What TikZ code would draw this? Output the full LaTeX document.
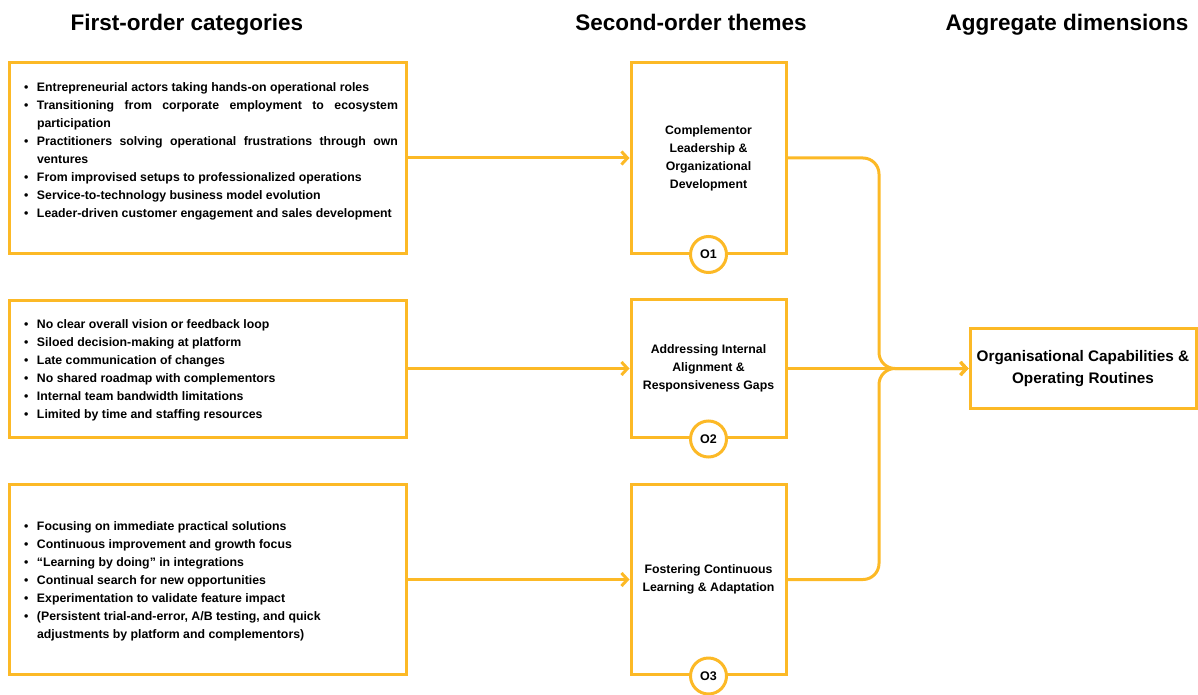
\documentclass[tikz,border=0pt]{standalone}
\usepackage{fontspec}
\setmainfont{Liberation Sans}
\usetikzlibrary{arrows.meta}
\definecolor{amber}{RGB}{252,185,38}
\newcommand{\bitem}{\par\leftskip=7pt\hangindent=13pt\hangafter=1\noindent\hbox to 13pt{\textbullet\hfil}}

\begin{document}
\begin{tikzpicture}[x=1pt,y=-1pt,
    heading/.style={anchor=base, font=\fontsize{22.5}{26}\selectfont\bfseries},
    catbox/.style={draw=amber, line width=3pt, minimum width=397pt},
    cattext/.style={text width=381pt, inner xsep=8pt, align=justify,
        font=\fontsize{12.3}{18}\selectfont\bfseries},
    themebox/.style={draw=amber, line width=3pt, fill=white, minimum width=155pt,
        align=center, font=\fontsize{12.3}{18}\selectfont\bfseries},
    tag/.style={circle, draw=amber, line width=3pt, fill=white, minimum size=36pt,
        inner sep=0pt, font=\fontsize{12.5}{14}\selectfont\bfseries},
    link/.style={amber, line width=3pt, -{Straight Barb[length=6pt,width=13pt]}}]

    \useasboundingbox (0,0) rectangle (1198,695);

    % headings
    \node[heading] (h1) at (187,30.5) {First-order categories};
    \node[heading] (h2) at (691,30.5) {Second-order themes};
    \node[heading] (h3) at (1067,30.5) {Aggregate dimensions};

    % first-order categories
    \node[catbox, minimum height=190pt] (cat1) at (207.5,158) {};
    \node[catbox, minimum height=137pt] (cat2) at (207.5,368.5) {};
    \node[catbox, minimum height=190pt] (cat3) at (207.5,579.5) {};

    \node[cattext] (list1) at (207.5,146.5) {%
        \bitem Entrepreneurial actors taking hands-on operational roles
        \bitem Transitioning from corporate employment to ecosystem\linebreak participation
        \bitem Practitioners solving operational frustrations through own\linebreak ventures
        \bitem From improvised setups to professionalized operations
        \bitem Service-to-technology business model evolution
        \bitem Leader-driven customer engagement and sales development\par};
    \node[cattext] (list2) at (207.5,366) {%
        \bitem No clear overall vision or feedback loop
        \bitem Siloed decision-making at platform
        \bitem Late communication of changes
        \bitem No shared roadmap with complementors
        \bitem Internal team bandwidth limitations
        \bitem Limited by time and staffing resources\par};
    \node[cattext] (list3) at (207.5,577) {%
        \bitem Focusing on immediate practical solutions
        \bitem Continuous improvement and growth focus
        \bitem “Learning by doing” in integrations
        \bitem Continual search for new opportunities
        \bitem Experimentation to validate feature impact
        \bitem (Persistent trial-and-error, A/B testing, and quick\newline adjustments by platform and complementors)\par};

    % second-order themes
    \node[themebox, minimum height=190pt] (theme1) at (708.5,158)
        {Complementor\\Leadership \&\\Organizational\\Development};
    \node[themebox, minimum height=138pt] (theme2) at (708.5,368.5)
        {Addressing Internal\\Alignment \&\\Responsiveness Gaps};
    \node[themebox, minimum height=190pt] (theme3) at (708.5,579.5)
        {Fostering Continuous\\Learning \& Adaptation};
    \node[tag] (o1) at (theme1.south) {O1};
    \node[tag] (o2) at (theme2.south) {O2};
    \node[tag] (o3) at (theme3.south) {O3};

    % aggregate dimension
    \node[draw=amber, line width=3pt, minimum width=226pt, minimum height=80pt,
        align=center, font=\fontsize{15.3}{21.5}\selectfont\bfseries] (agg) at (1083,368.5)
        {Organisational Capabilities \&\\Operating Routines};

    % connectors
    \draw[link] (cat1.east) -- (theme1.west);
    \draw[link] (cat2.east) -- (theme2.west);
    \draw[link] (cat3.east) -- (theme3.west);

    \coordinate (join) at (879,368.5);
    \draw[link, rounded corners=16pt] (theme1.east) -| (join) -- (agg.west);
    \draw[link, rounded corners=16pt] (theme3.east) -| (join) -- (agg.west);
    \draw[link] (theme2.east) -- (agg.west);
\end{tikzpicture}
\end{document}
